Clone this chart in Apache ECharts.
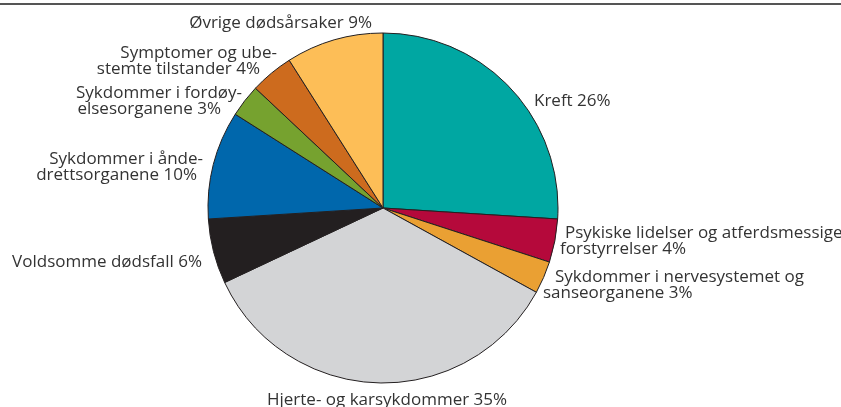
<!DOCTYPE html>
<html>
<head>
<meta charset="utf-8">
<script src="https://cdn.jsdelivr.net/npm/echarts@6/dist/echarts.min.js"></script>
<style>html,body{margin:0;padding:0;background:#fff}#c{width:841px;height:407px}</style>
</head>
<body>
<div id="c"></div>
<script>
const categories = ['Kreft','Psykiske lidelser og atferdsmessige forstyrrelser','Sykdommer i nervesystemet og sanseorganene','Hjerte- og karsykdommer','Voldsomme dødsfall','Sykdommer i åndedrettsorganene','Sykdommer i fordøyelsesorganene','Symptomer og ubestemte tilstander','Øvrige dødsårsaker'];
const values = [26, 4, 3, 35, 6, 10, 3, 4, 9];
const labelLines = [
  ['Kreft'],
  ['Psykiske lidelser og atferdsmessige', 'forstyrrelser'],
  ['Sykdommer i nervesystemet og', 'sanseorganene'],
  ['Hjerte- og karsykdommer'],
  ['Voldsomme dødsfall'],
  ['Sykdommer i ånde-', 'drettsorganene'],
  ['Sykdommer i fordøy-', 'elsesorganene'],
  ['Symptomer og ube-', 'stemte tilstander'],
  ['Øvrige dødsårsaker']
];
const colors = ['#00A7A2','#B5093B','#EAA033','#D3D4D6','#231F20','#0067AC','#76A22F','#CD6B1E','#FDBE57'];
// label layout: [x, yTop, align, line paddings]
const layout = [
  [534, 93, 'left', [0]],
  [560, 225, 'left', [5, 0]],
  [543, 269, 'left', [12, 0]],
  [387, 392, 'center', [0]],
  [202, 254, 'right', [0]],
  [203, 151, 'right', [0, 6]],
  [242, 85, 'right', [0, 21]],
  [277, 45, 'right', [0, 17]],
  [372, 15, 'right', [0]]
];
const chart = echarts.init(document.getElementById('c'), null, {renderer: 'canvas'});
const rich = {};
const data = categories.map((n, i) => {
  const lines = labelLines[i].slice();
  lines[lines.length - 1] += ' ' + values[i] + '%';
  const al = layout[i][2];
  const txt = lines.map((t, k) => {
    const key = 'r' + i + '_' + k;
    const p = layout[i][3][k] || 0;
    rich[key] = {fontSize: 17, lineHeight: 16, color: '#333', fontFamily: 'Open Sans',
      padding: al === 'left' ? [0, 0, 0, p] : [0, p, 0, 0]};
    return '{' + key + '|' + t + '}';
  }).join('\n');
  return {name: n, value: values[i], itemStyle: {color: colors[i]}, label: {formatter: txt}};
});
chart.setOption({
  animation: false,
  graphic: [{type: 'line', shape: {x1: 0, y1: 4, x2: 841, y2: 4}, style: {stroke: '#555', lineWidth: 2}}],
  series: [{
    type: 'pie',
    center: [383, 208],
    radius: 175,
    startAngle: 90,
    clockwise: true,
    data: data,
    itemStyle: {borderColor: '#231F20', borderWidth: 1},
    label: {show: true, position: 'outside', overflow: 'none', rich: rich, fontSize: 17, color: '#333', fontFamily: 'Open Sans'},
    labelLine: {show: false},
    emphasis: {disabled: true},
    labelLayout: function (p) {
      const L = layout[p.dataIndex];
      return {x: L[0], y: L[1], align: L[2], verticalAlign: 'top', hideOverlap: false, moveOverlap: null};
    }
  }]
});
</script>
</body>
</html>
